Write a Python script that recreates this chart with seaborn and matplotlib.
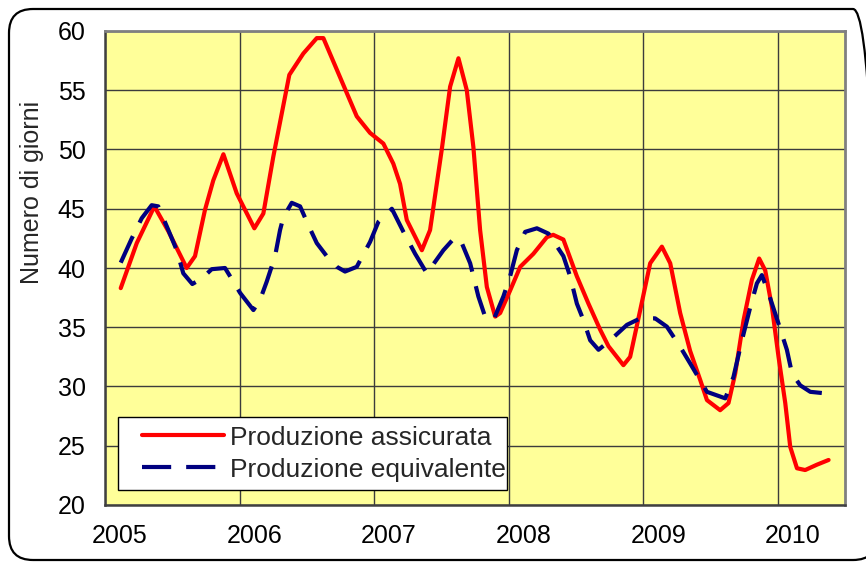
import matplotlib
matplotlib.use("Agg")
import matplotlib.pyplot as plt
from matplotlib.patches import FancyBboxPatch
from matplotlib.transforms import ScaledTranslation
from matplotlib.lines import Line2D
from matplotlib.legend_handler import HandlerLine2D
import numpy as np
import seaborn as sns
import pandas as pd

# ---- data ----
series_names = ["Produzione assicurata", "Produzione equivalente"]

x_assicurata = [2005.117, 2005.236, 2005.367, 2005.471, 2005.607, 2005.669, 2005.743, 2005.805,
                2005.880, 2005.979, 2006.110, 2006.177, 2006.251, 2006.370, 2006.474, 2006.574,
                2006.623, 2006.747, 2006.871, 2006.970, 2007.069, 2007.143, 2007.193, 2007.243,
                2007.355, 2007.416, 2007.503, 2007.565, 2007.627, 2007.689, 2007.738, 2007.788,
                2007.838, 2007.900, 2007.937, 2008.011, 2008.086, 2008.184, 2008.284, 2008.331,
                2008.407, 2008.507, 2008.593, 2008.680, 2008.742, 2008.853, 2008.903, 2008.978,
                2009.052, 2009.139, 2009.201, 2009.275, 2009.349, 2009.424, 2009.474, 2009.572,
                2009.634, 2009.684, 2009.746, 2009.808, 2009.862, 2009.907, 2009.957, 2010.006,
                2010.056, 2010.093, 2010.143, 2010.204, 2010.291, 2010.378]
y_assicurata = [38.3, 42.1, 45.2, 43.1, 40.0, 41.0, 44.9, 47.4,
                49.6, 46.3, 43.35, 44.6, 49.4, 56.3, 58.1, 59.4,
                59.4, 56.1, 52.8, 51.4, 50.5, 48.8, 47.1, 44.05,
                41.5, 43.2, 50.0, 55.3, 57.7, 55.0, 50.2, 43.2,
                38.4, 35.9, 36.2, 38.1, 40.1, 41.2, 42.6, 42.8,
                42.4, 39.3, 37.0, 34.8, 33.4, 31.8, 32.5, 36.45,
                40.4, 41.8, 40.4, 36.2, 33.0, 30.55, 28.85, 28.0,
                28.6, 31.1, 35.6, 39.0, 40.8, 39.8, 36.7, 32.5,
                28.6, 24.9, 23.1, 22.95, 23.4, 23.8]

x_equivalente = [2005.117, 2005.199, 2005.273, 2005.347, 2005.396, 2005.471, 2005.533, 2005.582,
                 2005.649, 2005.719, 2005.793, 2005.892, 2005.954, 2006.004, 2006.103, 2006.152,
                 2006.202, 2006.264, 2006.301, 2006.326, 2006.388, 2006.450, 2006.512, 2006.574,
                 2006.648, 2006.723, 2006.784, 2006.871, 2006.970, 2007.032, 2007.132, 2007.218,
                 2007.305, 2007.392, 2007.515, 2007.602, 2007.652, 2007.714, 2007.775, 2007.825,
                 2007.887, 2007.961, 2008.011, 2008.061, 2008.123, 2008.210, 2008.296, 2008.407,
                 2008.457, 2008.507, 2008.556, 2008.606, 2008.668, 2008.755, 2008.879, 2008.978,
                 2009.089, 2009.176, 2009.275, 2009.349, 2009.474, 2009.610, 2009.671, 2009.734,
                 2009.796, 2009.845, 2009.882, 2009.931, 2010.006, 2010.068, 2010.106, 2010.167,
                 2010.242, 2010.329]
y_equivalente = [40.45, 42.5, 44.2, 45.3, 45.2, 43.2, 41.5, 39.55,
                 38.65, 39.1, 39.9, 40.0, 38.85, 37.9, 36.45, 37.3,
                 38.85, 41.0, 43.2, 44.3, 45.5, 45.2, 43.6, 42.1,
                 41.0, 40.1, 39.7, 40.1, 42.2, 43.9, 45.0, 43.05,
                 41.2, 39.55, 41.5, 42.6, 42.1, 40.4, 37.6, 35.9,
                 35.6, 37.6, 39.3, 41.5, 43.05, 43.35, 42.9, 41.0,
                 39.3, 37.0, 35.6, 33.9, 33.1, 33.9, 35.2, 35.75,
                 35.75, 35.05, 33.35, 31.95, 29.55, 29.0, 30.8, 33.9,
                 36.7, 38.7, 39.4, 37.9, 35.3, 33.1, 31.1, 30.1,
                 29.55, 29.45]

year_ticks = [2005, 2006, 2007, 2008, 2009, 2010]
year_labels = ["2005", "2006", "2007", "2008", "2009", "2010"]
y_ticks = [20, 25, 30, 35, 40, 45, 50, 55, 60]

df = pd.concat([
    pd.DataFrame({"anno": x_assicurata, "giorni": y_assicurata, "serie": series_names[0]}),
    pd.DataFrame({"anno": x_equivalente, "giorni": y_equivalente, "serie": series_names[1]}),
], ignore_index=True)

# ---- style ----
sns.set_style("white")
plt.rcParams["font.family"] = ["Liberation Sans", "DejaVu Sans"]

W, H = 866, 562
fig = plt.figure(figsize=(W / 100, H / 100), dpi=100)
ax = fig.add_axes([105 / W, 1 - 505 / H, 740 / W, 474 / H])
ax.set_facecolor("#FFFF99")

palette = {series_names[0]: "#FF0000", series_names[1]: "#000080"}
dashes = {series_names[0]: "", series_names[1]: (7, 3.6)}

sns.lineplot(data=df, x="anno", y="giorni", hue="serie", style="serie",
             palette=palette, dashes=dashes, linewidth=3.0, ax=ax, sort=False,
             estimator=None)

ax.set_xlim(2005, 2010.5)
ax.set_ylim(20, 60)
ax.set_xticks(year_ticks)
ax.set_xticklabels(year_labels)
ax.set_yticks(y_ticks)
ax.grid(True, color="#3c3c3c", linewidth=1.0)
ax.set_axisbelow(True)

ax.tick_params(axis="x", length=0, pad=14, labelsize=18, colors="black")
ax.tick_params(axis="y", length=6, width=1.2, color="#808080", direction="out",
               pad=8, labelsize=18, labelcolor="black")
for lab in ax.get_xticklabels():
    lab.set_transform(lab.get_transform() + ScaledTranslation(15 / 100, 0, fig.dpi_scale_trans))

ax.set_xlabel("")
ax.set_ylabel("Numero di giorni", fontsize=18)
ax.yaxis.set_label_coords(-0.082, 0.66)

for side in ["top", "right"]:
    ax.spines[side].set_color("#808080")
    ax.spines[side].set_linewidth(2.0)
for side in ["left", "bottom"]:
    ax.spines[side].set_color("#404040")
    ax.spines[side].set_linewidth(1.8)


class RightHandler(HandlerLine2D):
    """Draw the legend line only in the right part of the handle box."""
    def __init__(self, frac, **kw):
        super().__init__(**kw)
        self.frac = frac

    def get_xdata(self, legend, xdescent, ydescent, width, height, fontsize):
        x0 = -xdescent + width * self.frac
        x1 = -xdescent + width
        xd = np.array([x0, x1])
        return xd, xd


handles, labels = ax.get_legend_handles_labels()
leg = ax.legend(handles, labels, loc="lower left",
                bbox_to_anchor=(0.0176, 0.0316, 0.526, 0.15), mode="expand",
                borderaxespad=0, fontsize=19, frameon=True, fancybox=False,
                edgecolor="black", framealpha=1, handlelength=3.7, handletextpad=0.23,
                labelspacing=0.3, borderpad=0.32,
                handler_map={Line2D: RightHandler(0.16)})
leg.get_frame().set_linewidth(1.0)
for h in leg.get_lines():
    h.set_linewidth(3.0)

# rounded figure border
border = FancyBboxPatch((9, 2), 868, 551, boxstyle="round,pad=0,rounding_size=24",
                        transform=None, facecolor="none", edgecolor="black",
                        linewidth=1.6, zorder=10)
fig.patches.append(border)

fig.savefig("out.png", dpi=100)
